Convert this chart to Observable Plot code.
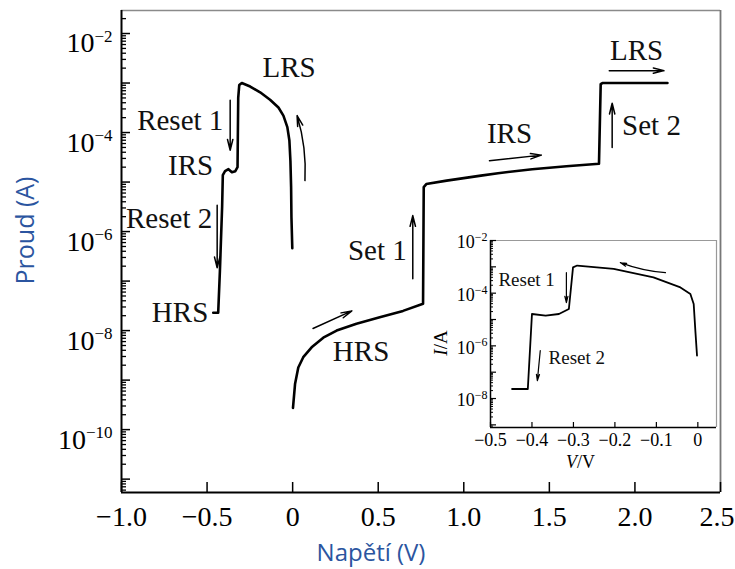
<!DOCTYPE html>
<html><head><meta charset="utf-8">
<script src="https://cdn.jsdelivr.net/npm/d3@7"></script>
<script src="https://cdn.jsdelivr.net/npm/@observablehq/plot@0.6"></script>
<style>
body{margin:0;background:#fff}
#chart{position:relative;width:735px;height:569px}
</style></head><body><div id="chart"></div>
<script>
// ---- data (voltage in V, current in A) ----
const negSweepV = [-0.002,-0.007,-0.009,-0.013,-0.019,-0.031,-0.054,-0.083,-0.132,-0.190,-0.248,-0.297,-0.312,-0.318,-0.322,-0.335,-0.355,-0.375,-0.395,-0.408,-0.412,-0.425,-0.435,-0.464];
const negSweepI = [4.6e-7,1.95e-6,7.9e-6,2.7e-5,6.9e-5,1.29e-4,2.2e-4,3.2e-4,4.6e-4,6.5e-4,8.5e-4,1.0e-3,9.1e-4,5.0e-4,2.0e-5,1.66e-5,1.58e-5,1.82e-5,1.66e-5,1.38e-5,3.2e-6,1.6e-7,2.3e-8,2.3e-8];
const posSweepV = [0.002,0.014,0.033,0.062,0.111,0.179,0.257,0.373,0.509,0.645,0.762,0.766,0.781,0.9,1.0,1.1,1.2,1.4,1.6,1.79,1.80,1.81,2.19];
const posSweepI = [2.75e-10,8.3e-10,1.8e-9,2.9e-9,4.6e-9,7.2e-9,1.0e-8,1.38e-8,1.86e-8,2.5e-8,3.5e-8,7.9e-6,9.1e-6,1.07e-5,1.2e-5,1.35e-5,1.51e-5,1.82e-5,2.09e-5,2.34e-5,9.5e-4,1.0e-3,1.0e-3];
const insetV = [-0.448,-0.410,-0.400,-0.367,-0.335,-0.311,-0.301,-0.291,-0.203,-0.107,-0.042,-0.018,-0.010,-0.006,-0.002];
const insetI = [2.3e-8,2.3e-8,1.62e-5,1.41e-5,1.62e-5,2.5e-5,9.5e-4,1.12e-3,8.3e-4,4.0e-4,1.66e-4,9.3e-5,3.9e-5,3.8e-6,4.3e-7];

const xTicks = [-1.0,-0.5,0,0.5,1.0,1.5,2.0,2.5];
const yTickLabels = [1e-2,1e-4,1e-6,1e-8,1e-10];
const insetXTicks = [-0.5,-0.4,-0.3,-0.2,-0.1,0];
const insetYTickLabels = [1e-2,1e-4,1e-6,1e-8];

const mainNotes = [
  {label:"LRS", v:-0.021, i:2.0e-3, anchor:"middle"},
  {label:"Reset 1", v:-0.405, i:1.74e-4, anchor:"end"},
  {label:"IRS", v:-0.464, i:2.14e-5, anchor:"end"},
  {label:"Reset 2", v:-0.470, i:1.82e-6, anchor:"end"},
  {label:"HRS", v:-0.493, i:2.3e-8, anchor:"end"},
  {label:"Set 1", v:0.667, i:4.2e-7, anchor:"end"},
  {label:"HRS", v:0.235, i:3.8e-9, anchor:"start"},
  {label:"IRS", v:1.267, i:9.5e-5, anchor:"middle"},
  {label:"LRS", v:2.010, i:4.6e-3, anchor:"middle"},
  {label:"Set 2", v:1.925, i:1.38e-4, anchor:"start"}
];
const mainArrows = [
  {v1:-0.365, i1:4.5e-4, v2:-0.365, i2:4.4e-5},
  {v1:-0.441, i1:3.4e-6, v2:-0.441, i2:1.86e-7},
  {v1:0.702, i1:1.12e-7, v2:0.702, i2:2.1e-6},
  {v1:0.119, i1:1.1e-8, v2:0.346, i2:2.5e-8},
  {v1:1.150, i1:2.7e-5, v2:1.453, i2:3.5e-5},
  {v1:1.850, i1:1.78e-3, v2:2.170, i2:1.78e-3},
  {v1:1.867, i1:5.0e-5, v2:1.867, i2:3.9e-4}
];
const mainCurvedArrows = [{v1:0.072, i1:1.07e-5, v2:0.026, i2:2.2e-4}];
const insetNotes = [
  {label:"Reset 1", v:-0.481, i:3.3e-4},
  {label:"Reset 2", v:-0.360, i:3.5e-7}
];
const insetArrows = [
  {v1:-0.317, i1:6.0e-4, v2:-0.317, i2:4.4e-5},
  {v1:-0.380, i1:6.6e-7, v2:-0.387, i2:4.8e-8}
];
const insetCurvedArrows = [{v1:-0.078, i1:6.0e-4, v2:-0.187, i2:1.45e-3}];

// ---- helpers ----
const toRows = (V, I) => V.map((v, k) => ({v, i: I[k]}));
const expLabel = d => { const e = Math.round(Math.log10(d)); return "10^" + (e < 0 ? "\u2212" + (-e) : String(e)); };
const numLabel = d => d === 0 ? "0" : d3.format(".1f")(d);
function logMinor(dom) {
  const lo = Math.floor(Math.log10(dom[0])), hi = Math.ceil(Math.log10(dom[1]));
  const major = [], minor = [];
  for (let e = lo; e <= hi; e++) {
    const b = Math.pow(10, e);
    if (b >= dom[0] && b <= dom[1]) major.push(b);
    for (let k = 2; k <= 9; k++) { const m = k * b; if (m >= dom[0] && m <= dom[1]) minor.push(m); }
  }
  return {major, minor};
}
function superscripts(svg, size) {
  d3.select(svg).selectAll('g[aria-label="y-axis tick label"] text').each(function() {
    const m = this.textContent.match(/^10\^(.*)$/);
    if (!m) return;
    this.textContent = "10";
    d3.select(this).append("tspan").attr("dy", "-0.6em").attr("font-size", size).text(m[1]);
  });
}
function italicFirst(svg, label) {
  d3.select(svg).selectAll("text").filter(function() { return this.textContent === label; }).each(function() {
    this.textContent = "";
    const s = d3.select(this);
    s.append("tspan").attr("font-style", "italic").text(label[0]);
    s.append("tspan").attr("font-style", "normal").text(label.slice(1));
  });
}

const SERIF = "'Liberation Serif', 'Times New Roman', serif";
const SANS = "'Open Sans', sans-serif";
const BLUE = "#2b55a0";

// ---- main chart ----
const W = 735, H = 569, mL = 121, mT = 10, mR = 15, mB = 77;
const frameW = W - mL - mR, frameH = H - mT - mB;
const yDom = [Math.pow(10, -11.27), Math.pow(10, -1.535)];
const yT = logMinor(yDom);

const main = Plot.plot({
  width: W, height: H, marginLeft: mL, marginTop: mT, marginRight: mR, marginBottom: mB,
  x: {domain: [-1, 2.5]},
  y: {type: "log", domain: yDom},
  style: {fontFamily: SERIF, background: "white", overflow: "visible"},
  marks: [
    Plot.ruleY([yDom[1]], {stroke: "#8a8a8a", strokeWidth: 1.5}),
    Plot.ruleX([2.5], {stroke: "#777", strokeWidth: 1.8}),
    Plot.tickY(yT.minor, {y: d => d, insetRight: frameW - 5, strokeWidth: 1.3}),
    Plot.tickY(yT.major, {y: d => d, insetRight: frameW - 9, strokeWidth: 1.5}),
    Plot.tickX(xTicks, {x: d => d, insetTop: frameH - 10, strokeWidth: 1.5}),
    Plot.ruleX([-1], {stroke: "#000", strokeWidth: 2}),
    Plot.ruleY([yDom[0]], {stroke: "#000", strokeWidth: 2}),
    Plot.axisX(xTicks.slice(0, -1), {tickSize: 0, tickPadding: 14, tickFormat: numLabel, fontSize: 28, label: null}),
    Plot.axisX(xTicks.slice(-1), {tickSize: 0, tickPadding: 14, tickFormat: numLabel, fontSize: 28, label: null, textAnchor: "end", dx: 14}),
    Plot.axisY(yTickLabels, {tickSize: 0, tickPadding: 9, tickFormat: expLabel, fontSize: 28, dy: 10, label: null}),
    Plot.line(toRows(negSweepV, negSweepI), {x: "v", y: "i", strokeWidth: 2.6, strokeLinejoin: "round"}),
    Plot.line(toRows(posSweepV, posSweepI), {x: "v", y: "i", strokeWidth: 2.6, strokeLinejoin: "round"}),
    ...["start", "middle", "end"].map(a => Plot.text(mainNotes.filter(n => n.anchor === a), {x: "v", y: "i", text: "label", textAnchor: a, fontSize: 29, fill: "#111"})),
    Plot.arrow(mainArrows, {x1: "v1", y1: "i1", x2: "v2", y2: "i2", headLength: 11, headAngle: 28, strokeWidth: 1.5}),
    Plot.arrow(mainCurvedArrows, {x1: "v1", y1: "i1", x2: "v2", y2: "i2", bend: -10, headLength: 11, headAngle: 28, strokeWidth: 1.5}),
    Plot.text(["Proud (A)"], {frameAnchor: "left", textAnchor: "middle", lineAnchor: "middle", dx: -96, dy: -21, rotate: -90, fill: BLUE, fontFamily: SANS, fontSize: 25}),
    Plot.text(["Napětí (V)"], {frameAnchor: "bottom", textAnchor: "middle", lineAnchor: "middle", dx: -50, dy: 61, fill: BLUE, fontFamily: SANS, fontSize: 24})
  ]
});
superscripts(main, 17);

// ---- inset ----
const iL = 420, iTop = 225, iW = 305, iH = 250;
const imL = 70, imT = 15, imR = 9, imB = 48;
const iFrameW = iW - imL - imR, iFrameH = iH - imT - imB;
const iyDom = [Math.pow(10, -9.1), 1e-2];
const iyT = logMinor(iyDom);

const inset = Plot.plot({
  width: iW, height: iH, marginLeft: imL, marginTop: imT, marginRight: imR, marginBottom: imB,
  x: {domain: [-0.5, 0.045]},
  y: {type: "log", domain: iyDom},
  style: {fontFamily: SERIF, background: "transparent", overflow: "visible", position: "absolute", left: iL + "px", top: iTop + "px"},
  marks: [
    Plot.ruleY([iyDom[1]], {stroke: "#999", strokeWidth: 1.2}),
    Plot.ruleX([0.045], {stroke: "#999", strokeWidth: 1.2}),
    Plot.tickY(iyT.minor, {y: d => d, insetRight: iFrameW - 3, strokeWidth: 1}),
    Plot.tickY(iyT.major, {y: d => d, insetRight: iFrameW - 6, strokeWidth: 1.2}),
    Plot.tickX(insetXTicks, {x: d => d, insetTop: iFrameH - 5, strokeWidth: 1.2}),
    Plot.ruleX([-0.5], {stroke: "#000", strokeWidth: 1.5}),
    Plot.ruleY([iyDom[0]], {stroke: "#000", strokeWidth: 1.5}),
    Plot.axisX(insetXTicks, {tickSize: 0, tickPadding: 6, tickFormat: numLabel, fontSize: 18, label: null}),
    Plot.axisY(insetYTickLabels, {tickSize: 0, tickPadding: 3, tickFormat: expLabel, fontSize: 18, dy: 2, label: null}),
    Plot.line(toRows(insetV, insetI), {x: "v", y: "i", strokeWidth: 1.8, strokeLinejoin: "round"}),
    Plot.text(insetNotes, {x: "v", y: "i", text: "label", textAnchor: "start", fontSize: 19, fill: "#111"}),
    Plot.arrow(insetArrows, {x1: "v1", y1: "i1", x2: "v2", y2: "i2", headLength: 8, headAngle: 28, strokeWidth: 1.2}),
    Plot.arrow(insetCurvedArrows, {x1: "v1", y1: "i1", x2: "v2", y2: "i2", bend: 8, headLength: 8, headAngle: 28, strokeWidth: 1.2}),
    Plot.text(["I/A"], {frameAnchor: "left", textAnchor: "middle", lineAnchor: "middle", dx: -50, dy: 9, rotate: -90, fontSize: 19}),
    Plot.text(["V/V"], {frameAnchor: "bottom", textAnchor: "middle", lineAnchor: "middle", dx: -23, dy: 35, fontSize: 18})
  ]
});
superscripts(inset, 12);
italicFirst(inset, "I/A");
italicFirst(inset, "V/V");

const host = document.getElementById("chart");
host.appendChild(main);
host.appendChild(inset);
</script></body></html>
